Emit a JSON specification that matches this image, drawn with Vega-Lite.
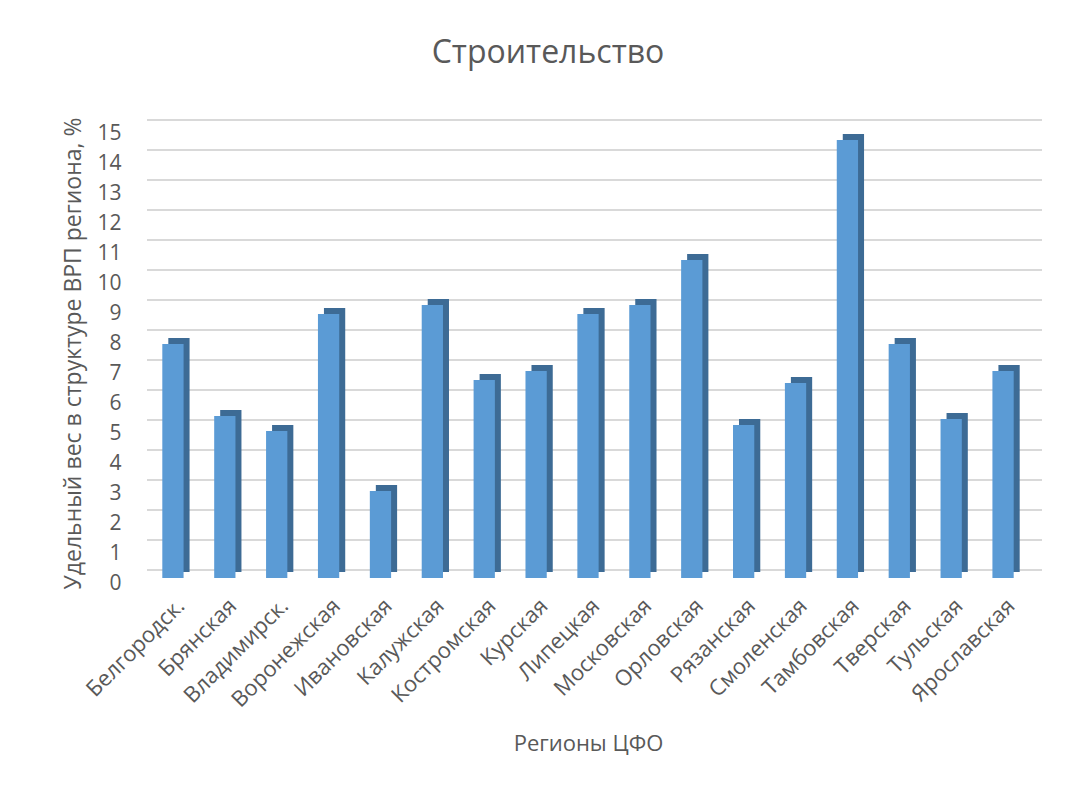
{
  "$schema": "https://vega.github.io/schema/vega-lite/v6.json",
  "autosize": "none",
  "width": 882,
  "height": 450,
  "padding": {"left": 147, "top": 128, "right": 48, "bottom": 211},
  "background": "white",
  "config": {"view": {"stroke": null}},
  "title": {
    "text": "Строительство",
    "font": "Open Sans",
    "fontSize": 32,
    "fontWeight": "normal",
    "color": "#595959",
    "dx": -40,
    "offset": 47
  },
  "data": {
    "values": [
      {"region": "Белгородск.", "value": 7.8},
      {"region": "Брянская", "value": 5.4},
      {"region": "Владимирск.", "value": 4.9},
      {"region": "Воронежская", "value": 8.8},
      {"region": "Ивановская", "value": 2.9},
      {"region": "Калужская", "value": 9.1},
      {"region": "Костромская", "value": 6.6},
      {"region": "Курская", "value": 6.9},
      {"region": "Липецкая", "value": 8.8},
      {"region": "Московская", "value": 9.1},
      {"region": "Орловская", "value": 10.6},
      {"region": "Рязанская", "value": 5.1},
      {"region": "Смоленская", "value": 6.5},
      {"region": "Тамбовская", "value": 14.6},
      {"region": "Тверская", "value": 7.8},
      {"region": "Тульская", "value": 5.3},
      {"region": "Ярославская", "value": 6.9}
    ]
  },
  "encoding": {
    "x": {
      "field": "region",
      "type": "nominal",
      "sort": null,
      "scale": {"paddingInner": 0.59, "paddingOuter": 0.295},
      "axis": {
        "title": "Регионы ЦФО",
        "titleFont": "Open Sans",
        "titleFontSize": 22,
        "titleFontWeight": "normal",
        "titleColor": "#595959",
        "titlePadding": 23,
        "labelAngle": -45,
        "labelAlign": "right",
        "labelBaseline": "middle",
        "labelFont": "Open Sans",
        "labelFontSize": 22,
        "labelColor": "#595959",
        "labelPadding": 24,
        "labelOffset": 8,
        "domain": false,
        "ticks": false,
        "grid": false
      }
    },
    "y": {
      "field": "value",
      "type": "quantitative",
      "scale": {"domain": [0, 15], "nice": false},
      "axis": {
        "title": "Удельный вес в структуре ВРП региона, %",
        "titleFont": "Open Sans",
        "titleFontSize": 23,
        "titleFontWeight": "normal",
        "titleColor": "#595959",
        "titlePadding": 11,
        "values": [0,1,2,3,4,5,6,7,8,9,10,11,12,13,14,15],
        "labelFont": "Open Sans",
        "labelFontSize": 21,
        "labelColor": "#595959",
        "labelPadding": 26,
        "labelOffset": 5,
        "domain": false,
        "ticks": false,
        "grid": false
      }
    }
  },
  "layer": [
    {
      "data": {"values": [{"g": 0},{"g": 1},{"g": 2},{"g": 3},{"g": 4},{"g": 5},{"g": 6},{"g": 7},{"g": 8},{"g": 9},{"g": 10},{"g": 11},{"g": 12},{"g": 13},{"g": 14},{"g": 15}]},
      "mark": {"type": "rule", "color": "#d9d9d9", "strokeWidth": 2, "xOffset": 13, "yOffset": -8},
      "encoding": {
        "x": null,
        "y": {"field": "g", "type": "quantitative"}
      }
    },
    {
      "mark": {"type": "bar", "color": "#3d6b95", "xOffset": 6, "yOffset": -6},
      "encoding": {}
    },
    {
      "mark": {"type": "bar", "color": "#5b9bd5"},
      "encoding": {}
    }
  ]
}
